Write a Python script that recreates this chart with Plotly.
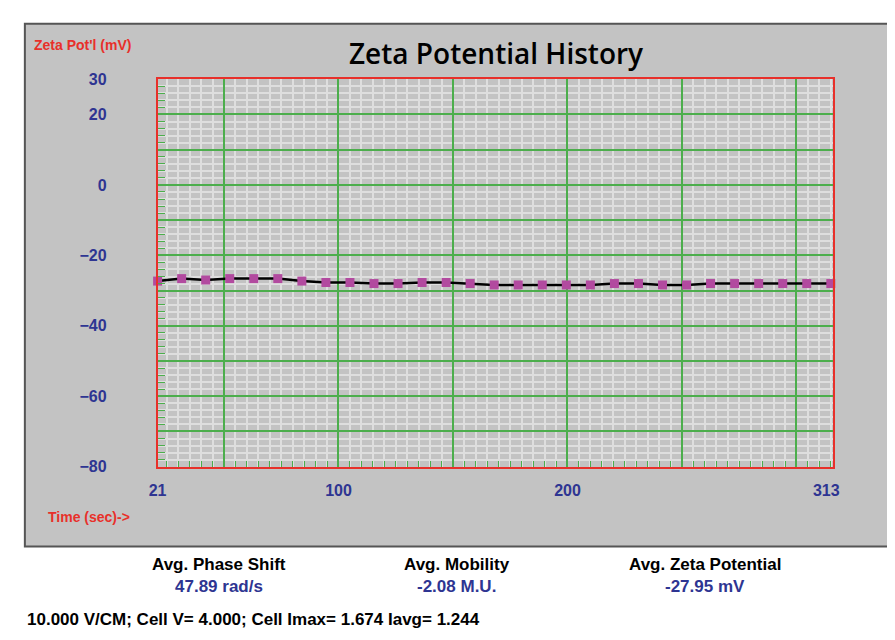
import plotly.graph_objects as go

times = [21, 31.5, 42, 52.5, 63, 73.5, 84, 94.5, 105, 115.5, 126, 136.5, 147, 157.5, 168,
         178.5, 189, 199.5, 210, 220.5, 231, 241.5, 252, 262.5, 273, 283.5, 294, 304.5, 315]
zeta = [-27.3, -26.6, -27.0, -26.6, -26.6, -26.6, -27.3, -27.7, -27.7, -28.0, -28.0, -27.7, -27.7, -28.0, -28.4,
        -28.4, -28.4, -28.4, -28.4, -28.0, -28.0, -28.4, -28.4, -28.0, -28.0, -28.0, -28.0, -28.0, -28.0]
x_ticks = [21, 100, 200, 313]
y_ticks = [30, 20, 0, -20, -40, -60, -80]
XR = [21, 316]
YR = [-80, 30]

BLUE = "#2e3592"
RED = "#e8302a"
GREEN = "#4cae4c"
GRAY = "#c3c3c3"
F = "Liberation Sans"

fig = go.Figure()
fig.add_trace(go.Scatter(x=times, y=zeta, mode="lines+markers",
                         line=dict(color="black", width=2.5),
                         marker=dict(symbol="square", size=9, color="#b24a9f"),
                         showlegend=False, cliponaxis=False))
fig.add_trace(go.Scatter(x=XR, y=YR, xaxis="x2", yaxis="y2", mode="markers",
                         marker=dict(opacity=0), showlegend=False, hoverinfo="skip"))

dom_x = [143/895, 830/895]
dom_y = [1-463/640, 1-65/640]

fig.update_layout(
    width=895, height=640, margin=dict(l=0, r=0, t=0, b=0),
    paper_bgcolor="white", plot_bgcolor="white",
    xaxis=dict(domain=dom_x, range=XR, dtick=50, tick0=0, showgrid=True, gridcolor=GREEN, gridwidth=1.5,
               showticklabels=False, zeroline=False, showline=True, linecolor=RED, linewidth=2, mirror=True,
               ticks="inside", ticklen=6, tickcolor=GREEN,
               minor=dict(dtick=5, tick0=0, showgrid=True, gridcolor="#dedede", ticks="inside", ticklen=6, tickcolor=GREEN)),
    yaxis=dict(domain=dom_y, range=YR, dtick=10, tick0=0, showgrid=True, gridcolor=GREEN, gridwidth=1.5,
               showticklabels=False, zeroline=False, showline=True, linecolor=RED, linewidth=2, mirror=True,
               ticks="inside", ticklen=7, tickcolor=GREEN,
               minor=dict(dtick=2, tick0=0, showgrid=True, gridcolor="#dedede", ticks="inside", ticklen=7, tickcolor=GREEN)),
    xaxis2=dict(domain=dom_x, range=XR, overlaying="x", anchor="y2", tickvals=x_ticks, showgrid=False,
                zeroline=False, ticks="", ticklabelstandoff=12,
                tickfont=dict(family=F, size=16, color=BLUE, weight="bold")),
    yaxis2=dict(domain=dom_y, range=YR, overlaying="y", anchor="x2", tickvals=y_ticks, showgrid=False,
                zeroline=False, ticks="", ticklabelstandoff=50,
                tickfont=dict(family=F, size=16, color=BLUE, weight="bold")),
    shapes=[
        dict(type="rect", xref="paper", yref="paper", x0=8/895, x1=886/895, y0=1-545/640, y1=1-8/640,
             fillcolor=GRAY, line=dict(color="#555555", width=2), layer="below"),
    ],
)

ann = [
    ("Zeta Potential History", 487, 38, 28, "black", "center", "Open Sans", 600),
    ("Zeta Pot'l (mV)", 15, 30, 14, RED, "left", F, "bold"),
    ("Time (sec)->", 30, 515, 14, RED, "left", F, "bold"),
    ("Avg. Phase Shift", 205, 563, 17, "black", "center", F, "bold"),
    ("47.89 rad/s", 205, 586, 17, BLUE, "center", F, "bold"),
    ("Avg. Mobility", 447, 563, 17, "black", "center", F, "bold"),
    ("-2.08 M.U.", 447, 586, 17, BLUE, "center", F, "bold"),
    ("Avg. Zeta Potential", 700, 563, 17, "black", "center", F, "bold"),
    ("-27.95 mV", 700, 586, 17, BLUE, "center", F, "bold"),
    ("10.000 V/CM; Cell V= 4.000; Cell Imax= 1.674 Iavg= 1.244", 8, 620, 17, "black", "left", F, "bold"),
]
for t, x, y, s, c, al, fam, w in ann:
    fig.add_annotation(text=t, xref="paper", yref="paper", x=x/895, y=1-y/640,
                       xanchor=al, yanchor="middle", showarrow=False,
                       font=dict(family=fam, size=s, color=c, weight=w))

fig.write_html("out.html")
